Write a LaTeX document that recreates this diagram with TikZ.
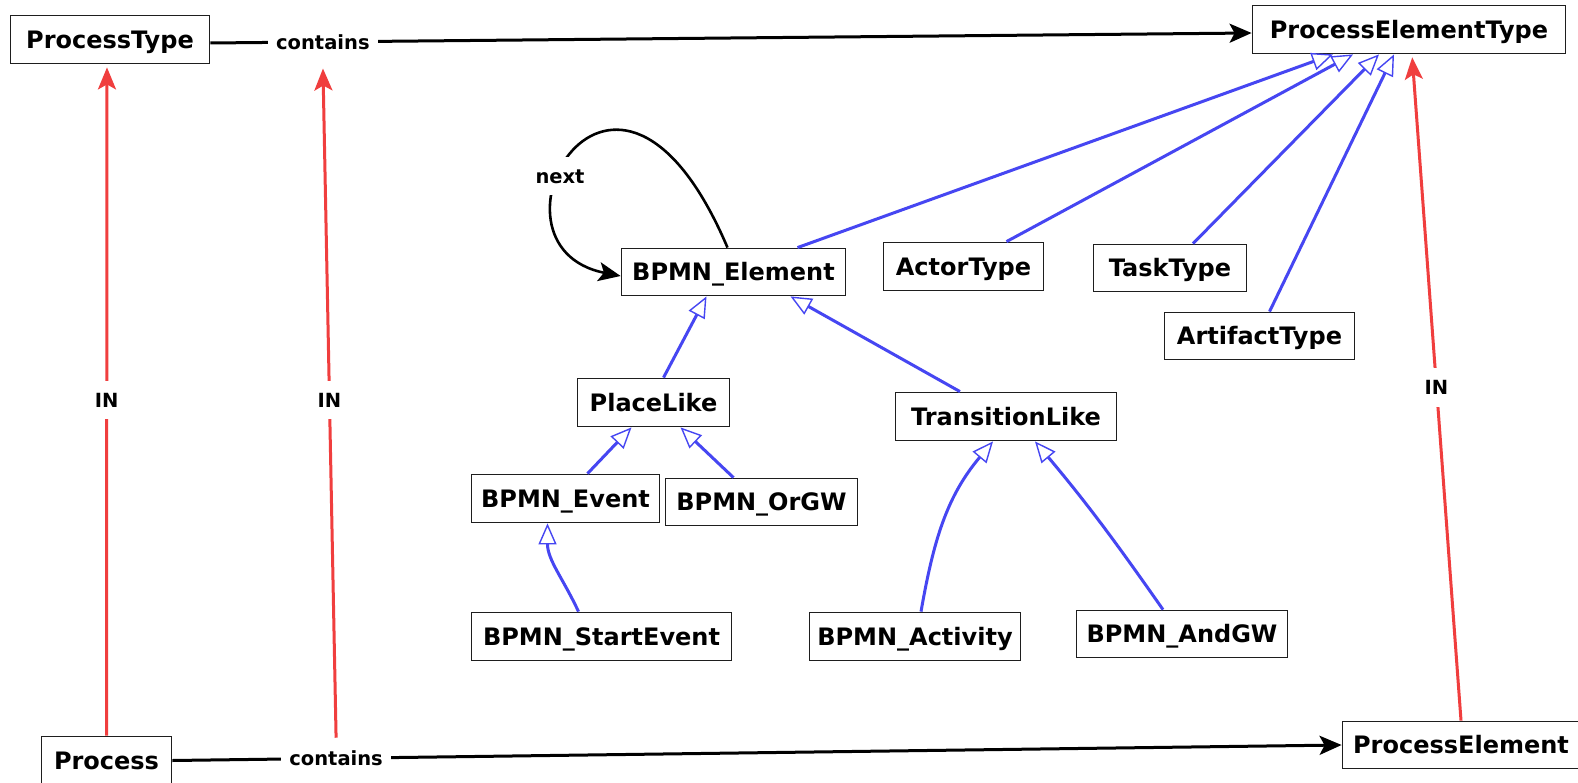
\documentclass[tikz,border=0pt]{standalone}
\usepackage{fontspec}
\setmainfont{DejaVu Sans}
\usetikzlibrary{arrows.meta}
\definecolor{genblue}{RGB}{70,70,242}
\definecolor{inred}{RGB}{240,62,62}
\definecolor{boxline}{RGB}{30,30,30}

\tikzset{
  cls/.style={draw=boxline, line width=1.8pt, fill=white, inner sep=0pt,
    font=\fontsize{24}{28}\selectfont\bfseries, text height=17.5pt, text depth=0pt},
  lbl/.style={fill=white, inner xsep=8pt, inner ysep=12pt,
    font=\fontsize{19.5}{22}\selectfont\bfseries, text height=14.2pt, text depth=0pt},
  assoc/.style={draw=black, line width=3pt, -{Stealth[length=22pt,width=19pt,inset=5pt]}},
  inst/.style={draw=inred, line width=3pt, -{Stealth[length=22pt,width=18pt,inset=5pt]}},
  gen/.style={draw=genblue, line width=3pt,
    -{Triangle[open,length=21pt,width=18pt,line width=1.4pt]}},
}

\begin{document}
\begin{tikzpicture}[x=1pt,y=1pt]
  \fill[white] (0,0) rectangle (1578,-783);
  \useasboundingbox (0,0) rectangle (1578,-783);

  % classes
  \node[cls, minimum width=199pt, minimum height=48pt] (pt)      at (110,-39.5)   {ProcessType};
  \node[cls, minimum width=313pt, minimum height=48pt] (pet)     at (1409,-29.5)  {ProcessElementType};
  \node[cls, minimum width=224pt, minimum height=47pt] (elem)    at (733.5,-272)  {BPMN\_Element};
  \node[cls, minimum width=160pt, minimum height=48pt] (actor)   at (963.5,-266.5){ActorType};
  \node[cls, minimum width=153pt, minimum height=47pt] (task)    at (1170,-268)   {TaskType};
  \node[cls, minimum width=190pt, minimum height=47pt] (art)     at (1259.5,-336) {ArtifactType};
  \node[cls, minimum width=152pt, minimum height=48pt] (place)   at (653.5,-402.5){PlaceLike};
  \node[cls, minimum width=221pt, minimum height=48pt] (trans)   at (1006,-416.5) {TransitionLike};
  \node[cls, minimum width=188pt, minimum height=48pt] (event)   at (565.5,-498.5){BPMN\_Event};
  \node[cls, minimum width=192pt, minimum height=47pt] (orgw)    at (761.5,-502)  {BPMN\_OrGW};
  \node[cls, minimum width=260pt, minimum height=48pt] (startev) at (601.5,-636.5){BPMN\_StartEvent};
  \node[cls, minimum width=211pt, minimum height=48pt] (act)     at (915,-636.5)  {BPMN\_Activity};
  \node[cls, minimum width=211pt, minimum height=47pt] (andgw)   at (1182,-634)   {BPMN\_AndGW};
  \node[cls, minimum width=130pt, minimum height=48pt] (proc)    at (106.5,-760.5){Process};
  \node[cls, minimum width=237pt, minimum height=47pt] (pe)      at (1461,-745)   {ProcessElement};

  % containment associations
  \draw[assoc] ([yshift=-3.5pt]pt.east) -- node[lbl, pos=0.108] (ctt) {contains} ([yshift=-3.5pt]pet.west);
  \draw[assoc] (proc.east) -- node[lbl, pos=0.14] (ctb) {contains} (pe.west);

  % instance-of links
  \draw[inst, shorten >=3pt] (proc.north) -- node[lbl] {IN} ([xshift=-3pt]pt.south);
  \draw[inst, shorten >=6pt] (ctb.north) -- node[lbl] {IN} (ctt.south);
  \draw[inst, shorten >=3pt] (pe.north) -- node[lbl] {IN} ([xshift=3pt]pet.south);

  % generalisations
  \draw[gen] ([xshift=64pt]elem.north)  -- ([xshift=-76pt]pet.south);
  \draw[gen] ([xshift=43pt]actor.north) -- ([xshift=-56pt]pet.south);
  \draw[gen] ([xshift=23pt]task.north)  -- ([xshift=-30pt]pet.south);
  \draw[gen] ([xshift=10pt]art.north)   -- ([xshift=-15pt]pet.south);
  \draw[gen] ([xshift=10pt]place.north) -- ([xshift=-27pt]elem.south);
  \draw[gen] ([xshift=-46pt]trans.north) -- ([xshift=57pt]elem.south);
  \draw[gen] ([xshift=22pt]event.north) -- ([xshift=-22pt]place.south);
  \draw[gen] ([xshift=-28pt]orgw.north) -- ([xshift=27pt]place.south);
  \draw[gen] ([xshift=-23pt]startev.north) to[out=115,in=-90] ([xshift=-18pt]event.south);
  \draw[gen] ([xshift=6pt]act.north) to[out=80,in=-130] ([xshift=-13pt]trans.south);
  \draw[gen] ([xshift=-19pt]andgw.north) to[out=125,in=-50] ([xshift=29pt]trans.south);

  % self association
  \draw[assoc, line width=2.6pt] ([xshift=-6pt]elem.north) .. controls (614,19) and (469,-246) ..
    node[lbl, pos=0.6] (nx) {next} ([yshift=-4pt]elem.west);
\end{tikzpicture}
\end{document}
